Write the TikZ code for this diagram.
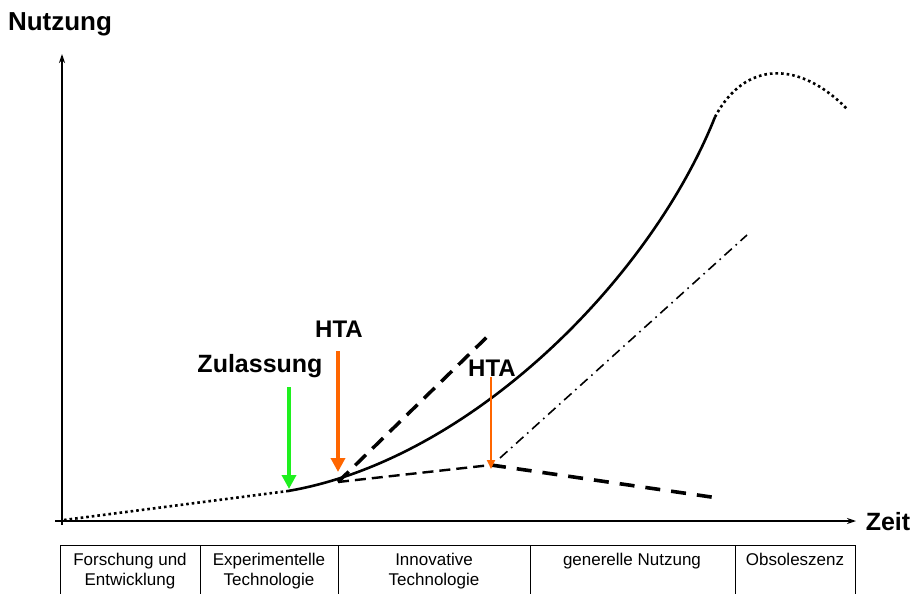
\documentclass[tikz,border=0pt]{standalone}
\usepackage{fontspec}
\setmainfont{Liberation Sans}
\usetikzlibrary{arrows.meta}
\begin{document}
\begin{tikzpicture}[x=1pt,y=-1pt,
  lbl/.style={font=\fontsize{25}{30}\selectfont\bfseries, inner sep=0pt},
  htalbl/.style={font=\fontsize{24}{28}\selectfont\bfseries, inner sep=0pt},
  cell/.style={font=\fontsize{17}{20}\selectfont, inner sep=0pt, align=center, anchor=north},
  axis/.style={line width=1.2pt, -{Stealth[length=9pt,width=6pt]}},
  dotline/.style={line width=2.6pt, dash pattern=on 2.6pt off 3pt},
  bigarrow/.style={line width=4pt, -{Triangle[length=14pt,width=14pt]}},
  smallarrow/.style={line width=2pt, -{Triangle[length=9pt,width=8pt]}}
]
\useasboundingbox (0,0) rectangle (914,594);
% axes
\coordinate (yb) at (62,525);
\coordinate (yt) at (62,54);
\coordinate (xl) at (55,521);
\coordinate (xr) at (856,521);
\draw[axis] (yb) -- (yt);
\draw[axis] (xl) -- (xr);
\node[lbl, font=\fontsize{26}{30}\selectfont\bfseries] (nutzung) at (60,24) {Nutzung};
\node[lbl] (zeit) at (888,522) {Zeit};
% phase table
\draw[line width=1pt] (60,594) -- (60,545) -- (855,545) -- (855,594);
\foreach \x in {200,338,530,735} \draw[line width=1pt] (\x,545) -- (\x,594);
\node[cell] (c1) at (130,553) {Forschung und\\Entwicklung};
\node[cell] (c2) at (269,553) {Experimentelle\\Technologie};
\node[cell] (c3) at (434,553) {Innovative\\Technologie};
\node[cell] (c4) at (632,553) {generelle Nutzung};
\node[cell] (c5) at (795,553) {Obsoleszenz};
% key points
\coordinate (o) at (64,520);
\coordinate (zp) at (288,491);
\coordinate (hp) at (338,482);
\coordinate (mp) at (491,465);
\coordinate (top) at (715,117);
% curves
\draw[dotline] (o) -- (zp);
\draw[line width=2.6pt] (zp) .. controls (470,460) and (650,280) .. (top);
\draw[dotline] (top) .. controls (745,60) and (800,60) .. (848,110);
\coordinate (steep) at (488,336);
\draw[line width=3.5pt, dash pattern=on 15pt off 9pt] (hp) -- (steep);
\draw[line width=2.4pt, dash pattern=on 11pt off 6pt] (hp) -- (mp);
\coordinate (decl) at (718,498);
\draw[line width=3.6pt, dash pattern=on 15pt off 11pt] (mp) -- (decl);
\coordinate (dds) at (500,458);
\coordinate (dde) at (747,235);
\draw[line width=1.6pt, dash pattern=on 10pt off 5pt on 1.6pt off 5pt] (dds) -- (dde);
% arrows
\coordinate (ga) at (289,387);
\coordinate (gb) at (289,489);
\draw[bigarrow, color={rgb,255:red,30;green,240;blue,30}] (ga) -- (gb);
\coordinate (oa) at (338,351);
\coordinate (ob) at (338,472);
\draw[bigarrow, color={rgb,255:red,255;green,102;blue,0}] (oa) -- (ob);
\coordinate (sa) at (491,377);
\coordinate (sb) at (491,469);
\draw[smallarrow, color={rgb,255:red,255;green,102;blue,0}] (sa) -- (sb);
% labels
\node[lbl] (zul) at (260,366) {Zulassung};
\node[htalbl] (hta1) at (339,329) {HTA};
\node[htalbl] (hta2) at (492,368) {HTA};
\end{tikzpicture}
\end{document}
